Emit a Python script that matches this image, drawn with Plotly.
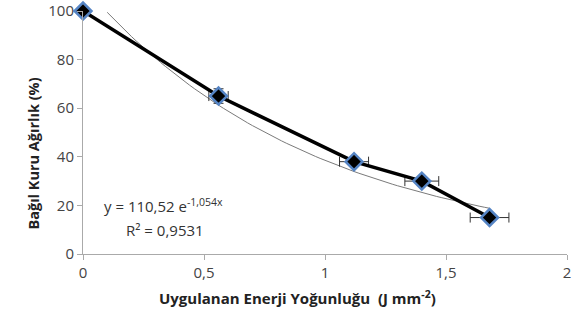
import numpy as np
import plotly.graph_objects as go

energy = [0, 0.56, 1.12, 1.40, 1.68]
weight = [100, 65, 38, 30, 15]
x_err = [0, 0.04, 0.06, 0.07, 0.08]
y_err = [0, 3, 1.5, 1.5, 1]
fit_a = 110.52
fit_b = -1.054
fit_x = np.linspace(0.1, 1.68, 80)

fig = go.Figure()
fig.add_trace(go.Scatter(x=fit_x, y=fit_a*np.exp(fit_b*fit_x), mode="lines",
                         line=dict(color="#7a7a7a", width=1), hoverinfo="skip"))
fig.add_trace(go.Scatter(x=energy, y=weight, mode="lines+markers",
                         line=dict(color="black", width=3.5),
                         marker=dict(symbol="diamond", size=13, color="black",
                                     line=dict(color="#5584c4", width=2.5)),
                         error_x=dict(type="data", array=x_err, color="#333", thickness=1, width=5),
                         error_y=dict(type="data", array=y_err, color="#333", thickness=1, width=5),
                         cliponaxis=False))

fig.update_layout(
    width=581, height=331, margin=dict(l=83, r=14, t=11, b=77, autoexpand=False),
    paper_bgcolor="white", plot_bgcolor="white", showlegend=False,
    separators=", ",
    font=dict(family="Open Sans, sans-serif", color="#333"),
    xaxis=dict(range=[0, 2], tickvals=[0, 0.5, 1, 1.5, 2], showgrid=False, zeroline=False,
               showline=True, linecolor="#aaa", ticks="outside", tickcolor="#aaa", ticklen=5,
               tickfont=dict(size=15, color="#444"), automargin=False),
    yaxis=dict(range=[0, 100], tickvals=[0, 20, 40, 60, 80, 100], showgrid=False, zeroline=False,
               showline=True, linecolor="#aaa", ticks="outside", tickcolor="#aaa", ticklen=5,
               tickfont=dict(size=15, color="#444"), automargin=False),
    annotations=[
        dict(x=297, y=331-310, xref="paper", yref="paper", showarrow=False,
             text="<b>Uygulanan Enerji Yoğunluğu  (J mm<sup>-2</sup>)</b>",
             font=dict(size=15, color="#222")),
        dict(x=21, y=331-154, xref="paper", yref="paper", showarrow=False, textangle=-90,
             text="<b>Bağıl Kuru Ağırlık (%)</b>", font=dict(size=14.5, color="#222")),
        dict(x=0.08, y=20, xref="x", yref="y", xanchor="left", showarrow=False,
             text="y = 110,52 e<sup>-1,054x</sup>", font=dict(size=15, color="#333")),
        dict(x=0.17, y=10, xref="x", yref="y", xanchor="left", showarrow=False,
             text="R² = 0,9531", font=dict(size=15, color="#333")),
    ],
)
pw, ph = 581 - 83 - 14, 331 - 11 - 77
for a in fig.layout.annotations[:2]:
    a.x = (a.x - 83) / pw
    a.y = (a.y - 77) / ph
fig.write_html("out.html", config={"displayModeBar": False},
               post_script="document.body.style.margin='0';document.body.style.overflow='hidden';")
